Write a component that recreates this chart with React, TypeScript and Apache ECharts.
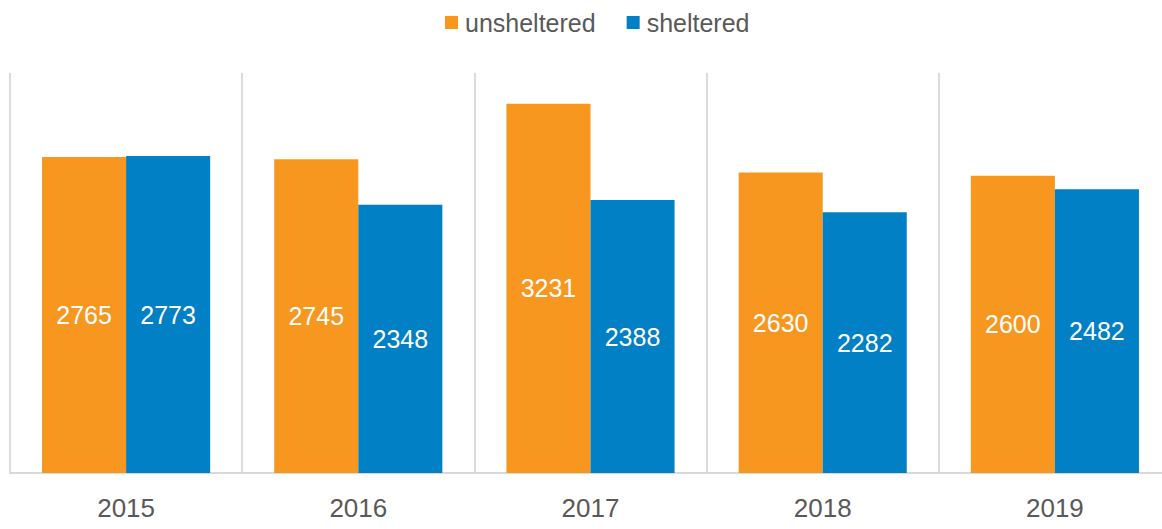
import React, { useEffect, useRef } from "react";
import * as echarts from "echarts";

const years = ["2015", "2016", "2017", "2018", "2019"];
const unsheltered = [2765, 2745, 3231, 2630, 2600];
const sheltered = [2773, 2348, 2388, 2282, 2482];

const FONT = "'Liberation Sans', Arial, sans-serif";

export default function App() {
  const ref = useRef<HTMLDivElement>(null);
  useEffect(() => {
    document.body.style.margin = "0";
    const chart = echarts.init(ref.current!, null, { renderer: "svg" });
    const label = {
      show: true,
      position: "inside",
      color: "#ffffff",
      fontSize: 25,
      fontFamily: FONT,
    };
    chart.setOption({
      animation: false,
      backgroundColor: "#ffffff",
      legend: {
        left: 440,
        top: 5,
        itemWidth: 13,
        itemHeight: 13,
        itemGap: 31,
        icon: "rect",
        textStyle: { color: "#595959", fontSize: 25, fontFamily: FONT, padding: [0, 0, 0, 2] },
        data: ["unsheltered", "sheltered"],
      },
      grid: { left: 10, top: 73, bottom: 56, right: -9, containLabel: false, outerBoundsMode: "none" },
      xAxis: {
        type: "category",
        data: years,
        axisTick: { show: false },
        axisLine: { show: true, lineStyle: { color: "#d9d9d9", width: 2 } },
        splitLine: { show: true, interval: 0, lineStyle: { color: "#dcdcdc", width: 2 } },
        axisLabel: { color: "#595959", fontSize: 26, fontFamily: FONT, margin: 22 },
      },
      yAxis: { type: "value", min: 0, max: 3500, show: false, splitLine: { show: false } },
      series: [
        {
          name: "unsheltered",
          type: "bar",
          data: unsheltered,
          itemStyle: { color: "#F7971F" },
          barGap: "0%",
          barCategoryGap: "27.6%",
          label,
        },
        {
          name: "sheltered",
          type: "bar",
          data: sheltered,
          itemStyle: { color: "#0180C5" },
          barGap: "0%",
          barCategoryGap: "27.6%",
          label,
        },
      ],
    });
    return () => chart.dispose();
  }, []);
  return <div ref={ref} style={{ width: 1162, height: 529 }} />;
}
